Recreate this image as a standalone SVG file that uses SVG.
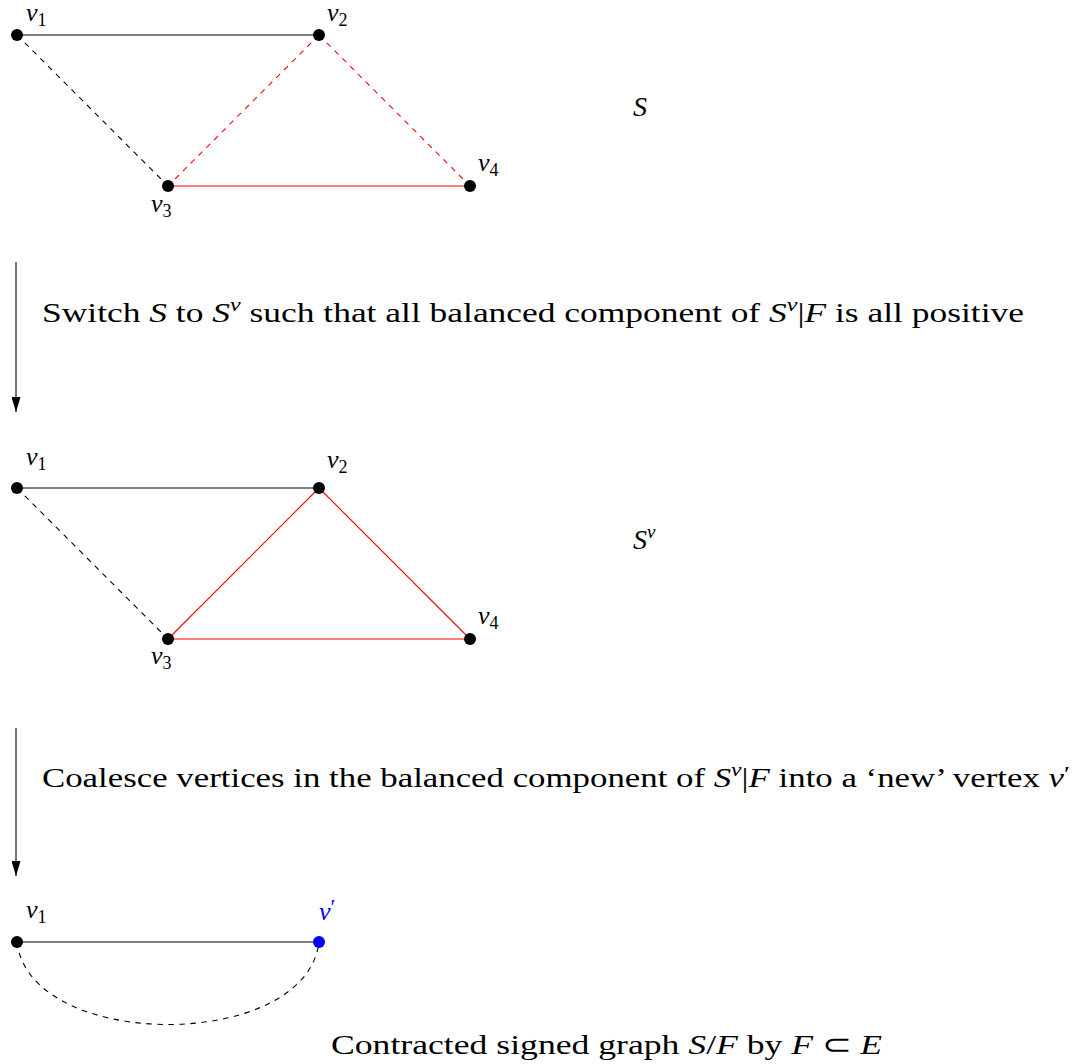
<svg xmlns="http://www.w3.org/2000/svg" width="1074" height="1064" viewBox="0 0 1074 1064">
<style>
.e{stroke:#000;stroke-width:1.1;fill:none}
.r{stroke:#f00}
.d{stroke-dasharray:5.5,5.5}
.n{fill:#000}
.t{font-family:"Liberation Serif",serif;font-size:28px;fill:#000}
.m{font-family:"Liberation Serif",serif;font-style:italic;font-size:28px;fill:#000}
.lb{font-family:"Liberation Serif",serif;font-style:italic;font-size:26px;fill:#000}
.s{font-family:"Liberation Serif",serif;font-size:18px;font-style:normal}
.sup{font-family:"Liberation Serif",serif;font-style:italic;font-size:19px}
.pr{font-family:"Liberation Serif",serif;font-style:normal;font-size:22px}
.i{font-style:italic}
.blue{fill:#00f}
</style>
<defs>
<marker id="ah" markerWidth="15" markerHeight="9" refX="15" refY="4.5" orient="auto" markerUnits="userSpaceOnUse" viewBox="0 0 15 9">
<path d="M0,0 L15,4.5 L0,9 Z" fill="#000"/>
</marker>
</defs>
<rect width="1074" height="1064" fill="#fff"/>
<g id="connectors">
<line class="e" x1="17" y1="35" x2="319" y2="35"/>
<line class="e d" x1="17" y1="35" x2="168" y2="186"/>
<line class="e r d" x1="319" y1="35" x2="168" y2="186"/>
<line class="e r d" x1="319" y1="35" x2="470" y2="186"/>
<line class="e r" x1="168" y1="186" x2="470" y2="186"/>
<line class="e" x1="16" y1="262" x2="16" y2="412" marker-end="url(#ah)"/>
<line class="e" x1="17" y1="488" x2="319" y2="488"/>
<line class="e d" x1="17" y1="488" x2="168" y2="639"/>
<line class="e r" x1="319" y1="488" x2="168" y2="639"/>
<line class="e r" x1="319" y1="488" x2="470" y2="639"/>
<line class="e r" x1="168" y1="639" x2="470" y2="639"/>
<line class="e" x1="16" y1="728" x2="16" y2="876" marker-end="url(#ah)"/>
<line class="e" x1="17" y1="942" x2="319" y2="942"/>
<path class="e d" d="M17,942 C30,1052 306,1052 319,942"/>
</g>
<g id="g1v1"><circle class="n" cx="17" cy="35" r="6"/><text class="lb" x="26" y="21">v<tspan class="s" dy="5">1</tspan></text></g>
<g id="g1v2"><circle class="n" cx="319" cy="35" r="6"/><text class="lb" x="327" y="21">v<tspan class="s" dy="5">2</tspan></text></g>
<g id="g1v3"><circle class="n" cx="168" cy="186" r="6"/><text class="lb" x="151" y="212">v<tspan class="s" dy="5">3</tspan></text></g>
<g id="g1v4"><circle class="n" cx="470" cy="186" r="6"/><text class="lb" x="478" y="171">v<tspan class="s" dy="5">4</tspan></text></g>
<g id="labelS"><text class="m" x="633" y="116">S</text></g>
<g id="step1"><text class="t" x="42" y="322" textLength="982" lengthAdjust="spacingAndGlyphs">Switch <tspan class="i">S</tspan> to <tspan class="i">S</tspan><tspan class="sup" dy="-11">ν</tspan><tspan dy="11"> such that all balanced component of </tspan><tspan class="i">S</tspan><tspan class="sup" dy="-11">ν</tspan><tspan dy="11">|</tspan><tspan class="i">F</tspan> is all positive</text></g>
<g id="g2v1"><circle class="n" cx="17" cy="488" r="6"/><text class="lb" x="26" y="465">v<tspan class="s" dy="5">1</tspan></text></g>
<g id="g2v2"><circle class="n" cx="319" cy="488" r="6"/><text class="lb" x="327" y="468">v<tspan class="s" dy="5">2</tspan></text></g>
<g id="g2v3"><circle class="n" cx="168" cy="639" r="6"/><text class="lb" x="151" y="664">v<tspan class="s" dy="5">3</tspan></text></g>
<g id="g2v4"><circle class="n" cx="470" cy="639" r="6"/><text class="lb" x="478" y="624">v<tspan class="s" dy="5">4</tspan></text></g>
<g id="labelSnu"><text class="m" x="633" y="549">S<tspan class="sup" dy="-11">ν</tspan></text></g>
<g id="step2"><text class="t" x="42" y="787" textLength="1028" lengthAdjust="spacingAndGlyphs">Coalesce vertices in the balanced component of <tspan class="i">S</tspan><tspan class="sup" dy="-11">ν</tspan><tspan dy="11">|</tspan><tspan class="i">F</tspan> into a ‘new’ vertex <tspan class="i">v</tspan><tspan class="pr" dy="-6">′</tspan></text></g>
<g id="g3v1"><circle class="n" cx="17" cy="942" r="6"/><text class="lb" x="26" y="918">v<tspan class="s" dy="5">1</tspan></text></g>
<g id="g3vp"><circle cx="319" cy="942" r="6" fill="#00f"/><text class="lb blue" x="319" y="920">v<tspan class="pr" dy="-6">′</tspan></text></g>
<g id="caption"><text class="t" x="331" y="1054" textLength="551" lengthAdjust="spacingAndGlyphs">Contracted signed graph <tspan class="i">S</tspan>/<tspan class="i">F</tspan> by <tspan class="i">F</tspan> ⊂ <tspan class="i">E</tspan></text></g>
</svg>
